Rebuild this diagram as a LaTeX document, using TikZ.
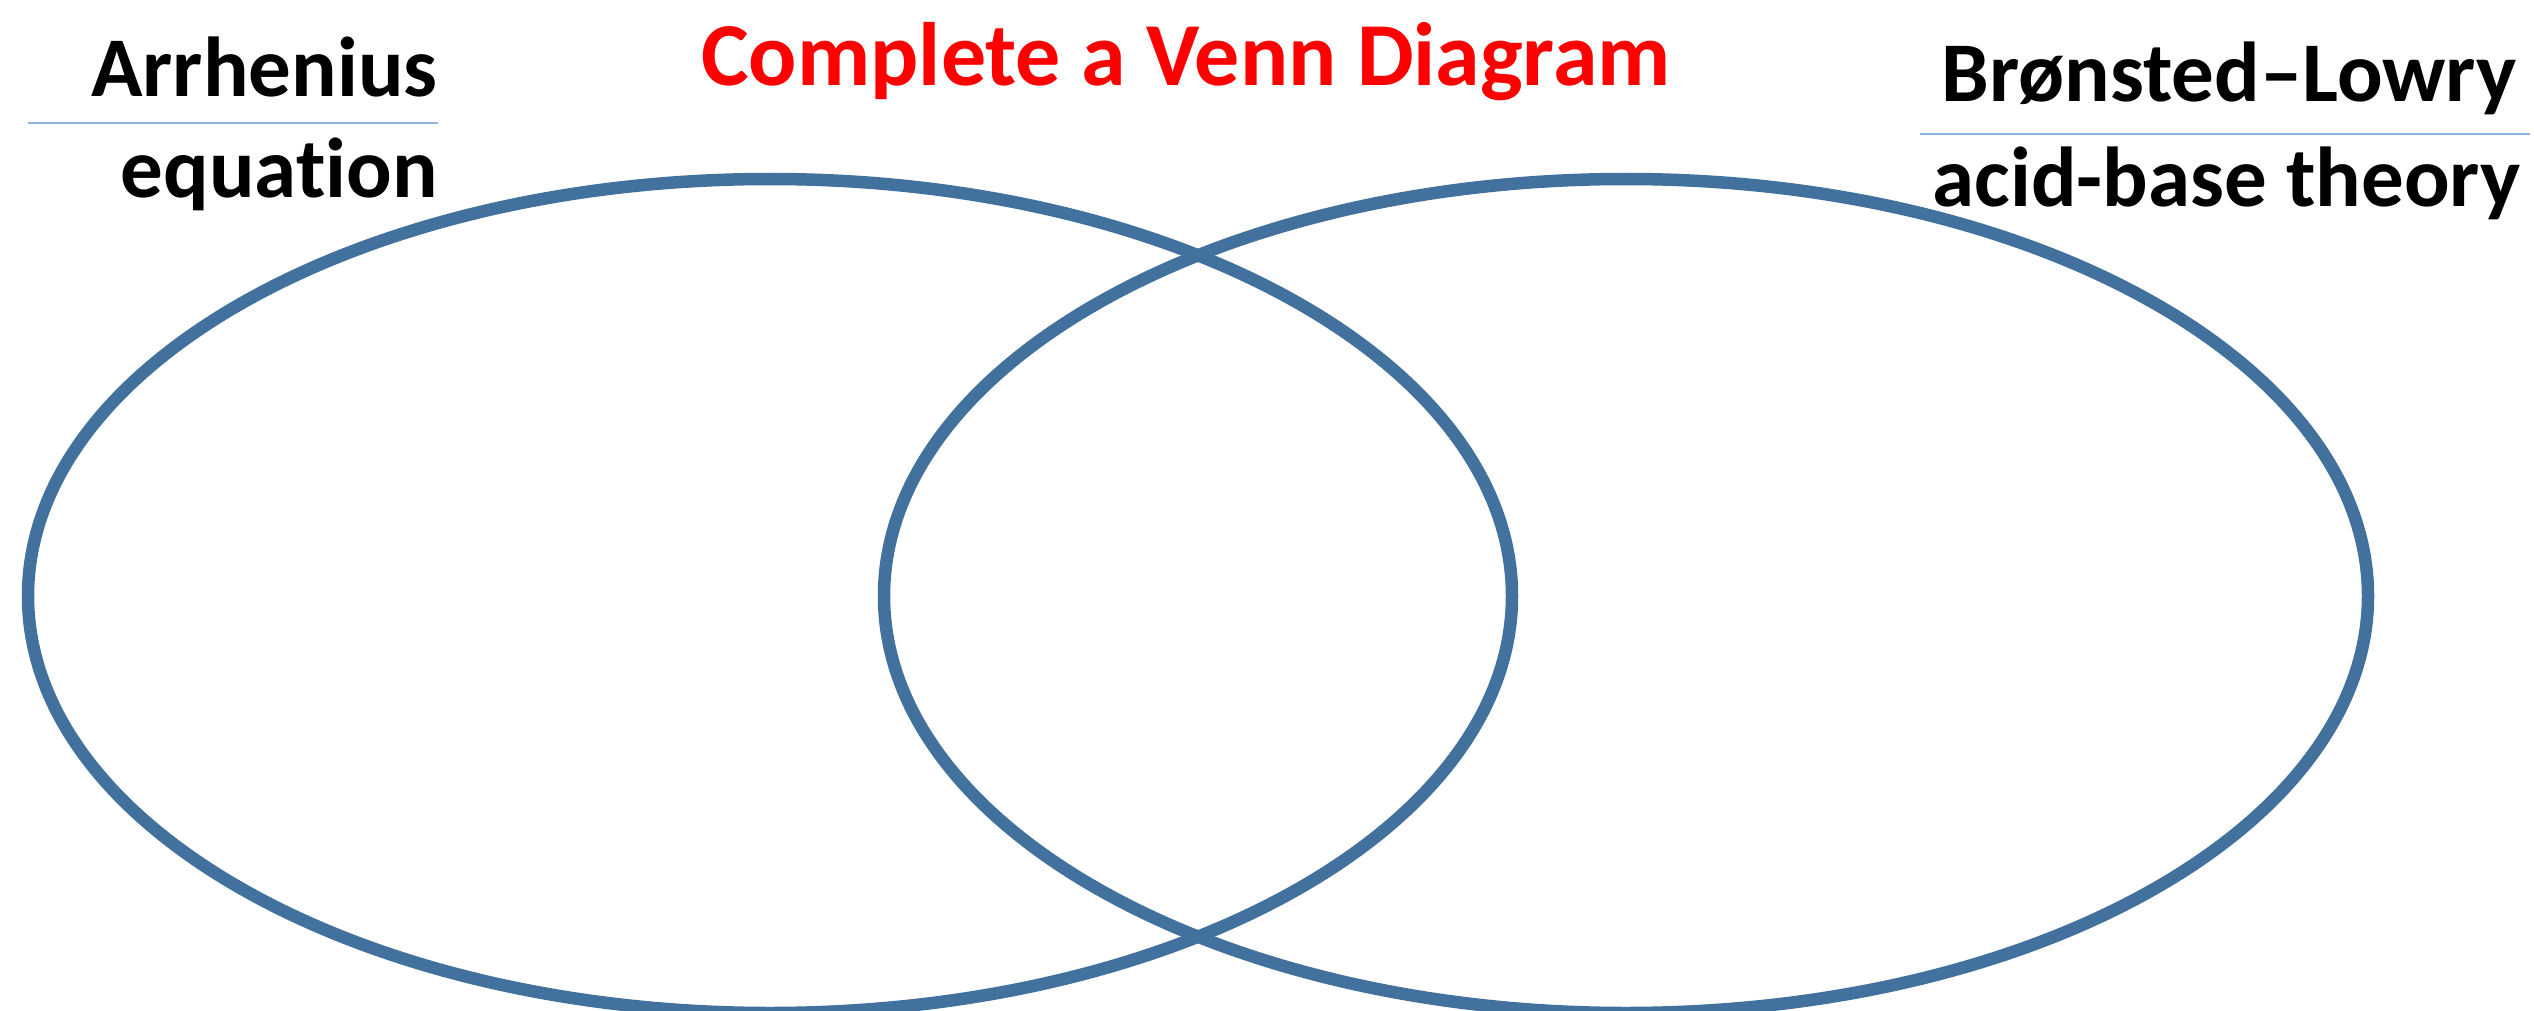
\documentclass[tikz,border=0pt]{standalone}
\usepackage{fontspec}
\setmainfont{Carlito}[Ligatures=NoCommon]
\usetikzlibrary{shapes.geometric}
\definecolor{vennblue}{RGB}{65,113,156}
\definecolor{rulecol}{RGB}{141,180,226}
\definecolor{titlered}{RGB}{255,0,0}
\tikzset{
  vennset/.style={ellipse, draw=vennblue, line width=6.25pt, inner sep=0pt,
    minimum width=742pt, minimum height=417pt},
  heading/.style={font=\bfseries\fontsize{42.5}{50}\selectfont, inner sep=0pt, text=black},
  titletext/.style={font=\bfseries\fontsize{45}{54}\selectfont, inner sep=0pt, text=titlered},
  rulerline/.style={draw=rulecol, line width=1pt}
}
\begin{document}
\begin{tikzpicture}[x=0.5pt,y=-0.5pt]
\useasboundingbox (0,0) rectangle (2534,1011);
\node[vennset] (left) at (770,596) {};
\node[vennset] (right) at (1626,596) {};
\node[titletext, anchor=base] (title) at (1186,86) {Complete a Venn Diagram};
\node[heading, anchor=base east] (arr) at (438,97) {Arrhenius};
\node[heading, anchor=base east] (eq) at (438,198) {equation};
\coordinate (l1) at (28,123);
\coordinate (l2) at (438,123);
\draw[rulerline] (l1) -- (l2);
\node[heading, anchor=base east] (bl) at (2517,102) {Brønsted–Lowry};
\node[heading, anchor=base east] (ab) at (2521,206) {acid-base theory};
\coordinate (r1) at (1920,134);
\coordinate (r2) at (2530,134);
\draw[rulerline] (r1) -- (r2);
\end{tikzpicture}
\end{document}
